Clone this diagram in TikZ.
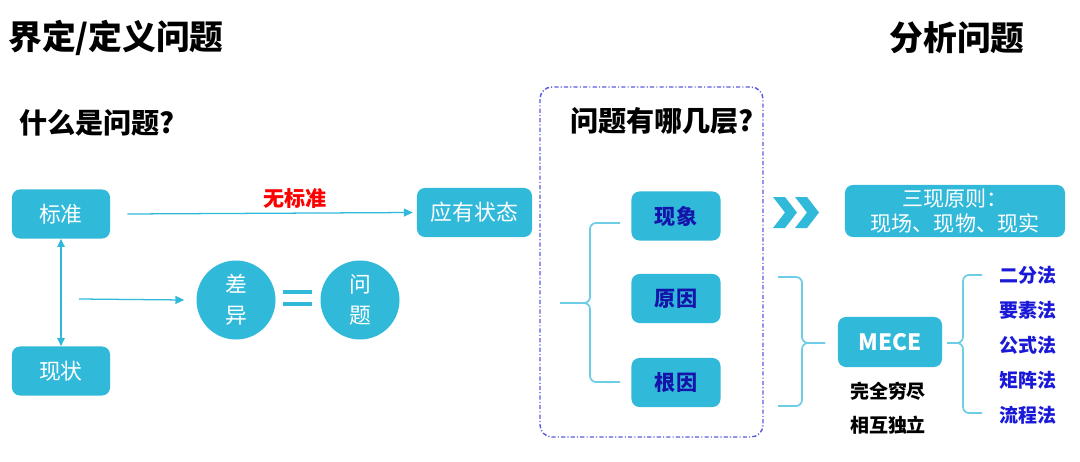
\documentclass[tikz,border=0pt]{standalone}
\usepackage{fontspec}
\setmainfont{Noto Sans CJK SC}
\usetikzlibrary{arrows.meta}

\definecolor{boxcyan}{RGB}{49,185,217}
\definecolor{bracecyan}{RGB}{110,205,230}
\definecolor{deepblue}{RGB}{20,20,170}
\definecolor{itemblue}{RGB}{25,25,215}
\definecolor{frameblue}{RGB}{90,90,225}

\tikzset{
  box/.style={fill=boxcyan, rounded corners=0.2cm, inner sep=0pt, text=white,
    font=\fontsize{15.5}{17}\selectfont},
  circ/.style={circle, fill=boxcyan, inner sep=0pt, minimum size=1.975cm, text=white,
    align=center, font=\fontsize{15.5}{22}\selectfont},
  layer/.style={box, minimum width=2.225cm, minimum height=1.225cm, text=deepblue,
    font=\fontsize{15}{17}\selectfont\bfseries},
  arr/.style={boxcyan, line width=0.9pt, -{Triangle[length=2.2mm,width=2mm]}},
  bracket/.style={bracecyan, line width=1.2pt, rounded corners=0.15cm},
  item/.style={text=itemblue, font=\fontsize{13.5}{15}\selectfont\bfseries}
}

\begin{document}
\begin{tikzpicture}[x=0.025cm, y=-0.025cm]
    \useasboundingbox (0,0) rectangle (1080,461);

    % 1. Tiêu đề
    \node[font=\fontsize{24}{26}\selectfont\bfseries] (title1) at (116,38) {界定/定义问题};
    \node[font=\fontsize{24}{26}\selectfont\bfseries] (title2) at (957,38) {分析问题};
    \node[font=\fontsize{20}{22}\selectfont\bfseries] (q1) at (97,123) {什么是问题?};
    \node[font=\fontsize{20}{22}\selectfont\bfseries] (q2) at (662,121) {问题有哪几层?};

    % 2. Phần trái: 标准 / 现状 / 差异 = 问题
    \node[box, minimum width=2.45cm, minimum height=1.225cm] (biaozhun) at (61,214) {标准};
    \node[box, minimum width=2.45cm, minimum height=1.225cm] (xianzhuang) at (61,371) {现状};
    \node[box, minimum width=2.875cm, minimum height=1.225cm] (yingyou) at (474.5,212.5) {应有状态};
    \node[circ] (chayi) at (236,300) {差\\异};
    \node[circ] (wenti) at (360,300) {问\\题};
    \coordinate (diffStart) at (79,299);

    \draw[arr] ([xshift=0.425cm]biaozhun.east) -- ([xshift=-0.1cm]yingyou.west);
    \node[text=red, font=\fontsize{15}{17}\selectfont\bfseries] (wubiaozhun) at (295,199) {无标准};
    \draw[boxcyan, line width=0.9pt, {Triangle[length=2mm,width=1.8mm]}-{Triangle[length=2mm,width=1.8mm]}]
      (biaozhun.south) -- (xianzhuang.north);
    \draw[arr] (diffStart) -- ([xshift=-0.3cm]chayi.west);

    % dấu bằng
    \draw[boxcyan, line width=2.2pt] (283,292) -- (312,292);
    \draw[boxcyan, line width=2.2pt] (283,304) -- (312,304);

    % 3. Khung nét chấm gạch: 问题有哪几层
    \draw[frameblue, line width=1pt, rounded corners=0.3cm,
      dash pattern=on 3pt off 1.5pt on 0.8pt off 1.5pt] (540,87) rectangle (763,437);
    \node[layer] (xianxiang) at (676,216) {现象};
    \node[layer] (yuanyin) at (676,298.5) {原因};
    \node[layer] (genyin) at (676,382.5) {根因};

    \coordinate (b1tip) at (560,303);
    \draw[bracket] (620,223) -- (590,223) -- (590,303) -- (b1tip);
    \draw[bracket] (620,382) -- (590,382) -- (590,303) -- (b1tip);

    % 4. Phần phải
    \fill[boxcyan] (773,197) -- (785,197) -- (797,212.5) -- (785,228) -- (773,228) -- (785,212.5) -- cycle;
    \fill[boxcyan] (795,197) -- (807,197) -- (819,212.5) -- (807,228) -- (795,228) -- (807,212.5) -- cycle;

    \node[box, minimum width=5.5cm, minimum height=1.3cm, align=center,
      font=\fontsize{15}{17.5}\selectfont] (sanxian) at (955,211) {三现原则：\\现场、现物、现实};

    \node[box, minimum width=2.6cm, minimum height=1.25cm,
      font=\fontsize{16}{18}\selectfont\bfseries] (mece) at (890,342) {MECE};
    \node[font=\fontsize{13.5}{15}\selectfont\bfseries] (qiongjin) at (888,391) {完全穷尽};
    \node[font=\fontsize{13.5}{15}\selectfont\bfseries] (duli) at (888,425) {相互独立};

    \coordinate (b2tip) at (825,343);
    \draw[bracket] (778,277) -- (802,277) -- (802,343) -- (b2tip);
    \draw[bracket] (778,406) -- (802,406) -- (802,343) -- (b2tip);

    \coordinate (b3tip) at (947,343);
    \draw[bracket] (982,275) -- (963,275) -- (963,343) -- (b3tip);
    \draw[bracket] (982,413) -- (963,413) -- (963,343) -- (b3tip);

    \node[item] (erfen) at (1028,275) {二分法};
    \node[item] (yaosu) at (1028,310) {要素法};
    \node[item] (gongshi) at (1028,345) {公式法};
    \node[item] (juzhen) at (1028,380) {矩阵法};
    \node[item] (liucheng) at (1028,415) {流程法};
\end{tikzpicture}
\end{document}
